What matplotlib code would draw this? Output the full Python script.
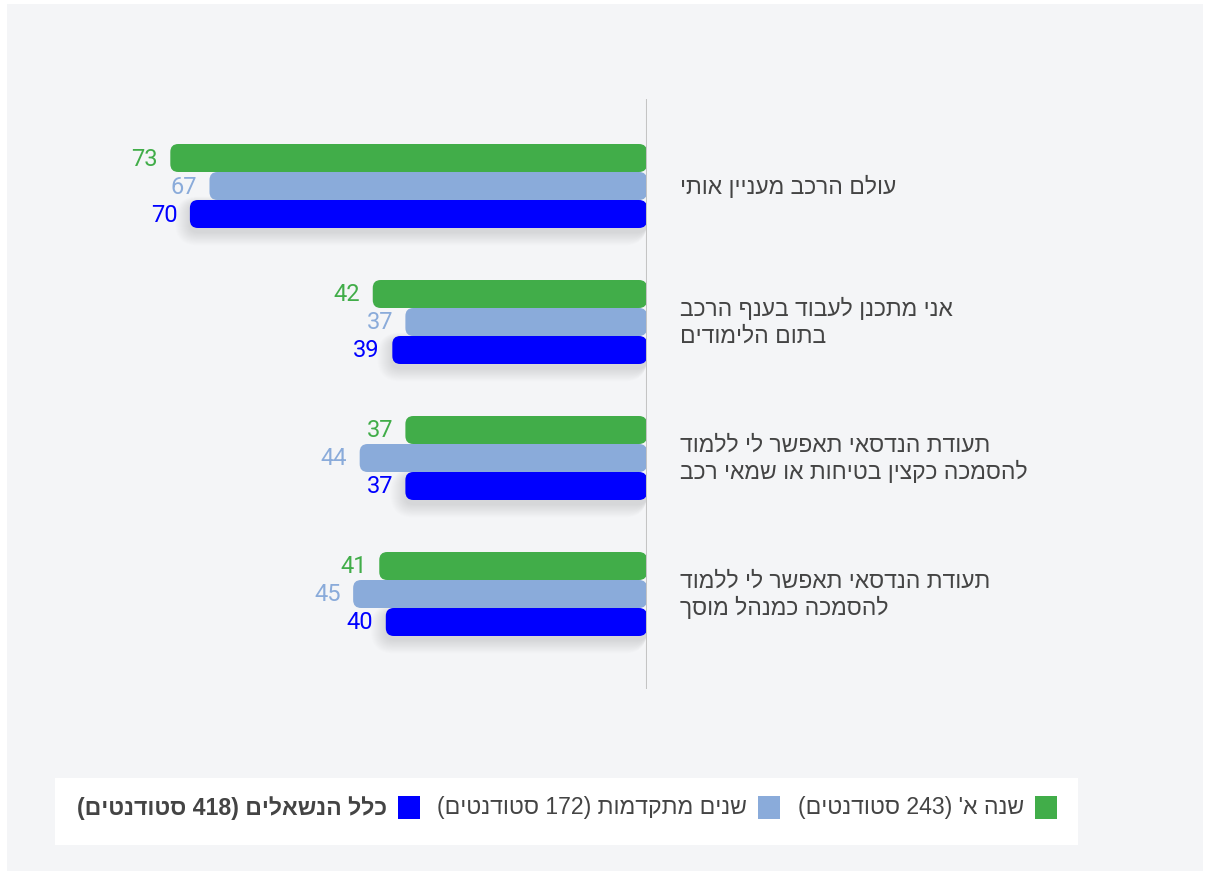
import re
import numpy as np
import matplotlib
matplotlib.use('Agg')
import matplotlib.pyplot as plt
from matplotlib.patches import FancyBboxPatch, Rectangle

# data
questions = [
    "עולם הרכב מעניין אותי",
    "אני מתכנן לעבוד בענף הרכב\nבתום הלימודים",
    "תעודת הנדסאי תאפשר לי ללמוד\nלהסמכה כקצין בטיחות או שמאי רכב",
    "תעודת הנדסאי תאפשר לי ללמוד\nלהסמכה כמנהל מוסך",
]
series_names = [
    "שנה א' (243 סטודנטים)",
    "שנים מתקדמות (172 סטודנטים)",
    "כלל הנשאלים (418 סטודנטים)",
]
first_year = [73, 42, 37, 41]
advanced = [67, 37, 44, 45]
all_resp = [70, 39, 37, 40]

colors = ['#41ad49', '#8aabda', '#0000ff']
text_color = '#444444'
bg_color = '#f4f5f7'

HEB = ['Liberation Sans', 'DejaVu Sans']
NUM = ['Roboto', 'DejaVu Sans']


def rtl(s):
    # matplotlib has no bidi, so flip each line into visual order
    lines = []
    for line in s.split('\n'):
        out = line[::-1]
        out = out.translate(str.maketrans('()', ')('))
        out = re.sub(r'\d+', lambda m: m.group(0)[::-1], out)
        lines.append(out)
    return '\n'.join(lines)


W, H = 1210, 878
fig = plt.figure(figsize=(W / 100, H / 100), dpi=100)
fig.patch.set_facecolor('white')


def fx(x):
    return x / W


def fy(y):
    return 1 - y / H


# gray panel
fig.patches.append(Rectangle((fx(7), fy(872)), fx(1203) - fx(7), fy(5) - fy(872),
                             transform=fig.transFigure, facecolor=bg_color,
                             edgecolor='none', zorder=-10))

# axes: value 0 at x=647px, 6.53 px per unit; y in pixels
px_per_unit = 6.53
ax = fig.add_axes([fx(100), fy(690), fx(647) - fx(100), fy(100) - fy(690)])
ax.set_facecolor('none')
ax.set_xlim(547 / px_per_unit, 0)
ax.set_ylim(590, 0)
for s in ax.spines.values():
    s.set_visible(False)
ax.set_xticks([])
ax.set_yticks([])
ax.axvline(0, color='#c4c4c4', lw=2.2, zorder=5)

group_centers = np.arange(len(questions)) * 136 + 87
bar_h = 28
series = [first_year, advanced, all_resp]
radius = 8

for i, vals in enumerate(series):
    ypos = group_centers + (i - 1) * bar_h
    bars = ax.barh(ypos, vals, height=bar_h, color=colors[i])
    for b, v in zip(bars, vals):
        x0, y0, w, h = b.get_x(), b.get_y(), b.get_width(), b.get_height()
        b.set_visible(False)
        # soft drop shadow under the bottom bar
        if i == 2:
            for k in range(1, 16):
                gx = k / px_per_unit
                sh = FancyBboxPatch((x0, y0 + 4 - k * 0.5),
                                    w + gx, h + k * 1.4,
                                    boxstyle=f"round,pad=0,rounding_size={(radius + k) / px_per_unit}",
                                    mutation_aspect=px_per_unit,
                                    facecolor='black', edgecolor='none', alpha=0.007, zorder=1)
                ax.add_patch(sh)
        p = FancyBboxPatch((x0, y0), w, h,
                           boxstyle=f"round,pad=0,rounding_size={radius / px_per_unit}",
                           mutation_aspect=px_per_unit,
                           facecolor=colors[i], edgecolor='none', zorder=3)
        ax.add_patch(p)
        ax.annotate(str(v), xy=(v, b.get_y() + h / 2), xytext=(-9, 0),
                    textcoords='offset points', ha='right', va='center',
                    fontsize=17, color=colors[i], family=NUM, zorder=4)

for q, yc in zip(questions, group_centers):
    ax.annotate(rtl(q), xy=(0, yc), xytext=(24, 0), textcoords='offset points',
                ha='left', va='center', multialignment='left', fontsize=16.5,
                color=text_color, family=HEB, linespacing=1.2, annotation_clip=False)

# legend box
fig.patches.append(Rectangle((fx(55), fy(846)), fx(1078) - fx(55), fy(779) - fy(846),
                             transform=fig.transFigure, facecolor='white',
                             edgecolor='none', zorder=-5))
sq_left = [1035, 758, 398]
for name, c, xl, wt in zip(series_names, colors, sq_left, ['normal', 'normal', 'bold']):
    fig.patches.append(Rectangle((fx(xl), fy(820)), fx(22), fy(797) - fy(820),
                                 transform=fig.transFigure, facecolor=c,
                                 edgecolor='none', zorder=2))
    fig.text(fx(xl - 11), fy(808), rtl(name), ha='right', va='center',
             fontsize=16.6, color=text_color, family=HEB, fontweight=wt)

fig.savefig('out.png', dpi=100, facecolor=fig.get_facecolor())
